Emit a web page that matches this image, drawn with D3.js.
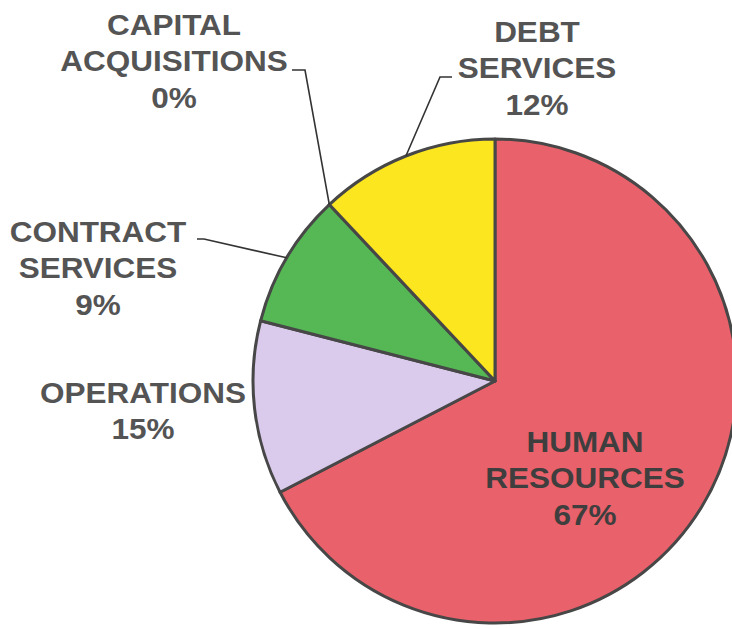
<!DOCTYPE html>
<html>
<head>
<meta charset="utf-8">
<script src="https://cdn.jsdelivr.net/npm/d3@7"></script>
<style>
  html, body { margin: 0; padding: 0; background: #fff; }
  svg { display: block; }
</style>
</head>
<body>
<svg id="chart" width="732" height="629"></svg>
<script>
// ---- data ----
const categories = ["HUMAN RESOURCES", "OPERATIONS", "CONTRACT SERVICES", "CAPITAL ACQUISITIONS", "DEBT SERVICES"];
const sliceValues = [67.4, 11.6, 9.0, 0, 12.0];          // slice sizes as drawn
const percentLabels = ["67%", "15%", "9%", "0%", "12%"];  // printed labels
const labelLines = [["HUMAN", "RESOURCES"], ["OPERATIONS"], ["CONTRACT", "SERVICES"], ["CAPITAL", "ACQUISITIONS"], ["DEBT", "SERVICES"]];
const colors = ["#E9616A", "#DACAEC", "#55B854", "#FCE620", "#FCE620"];

// ---- layout ----
const W = 732, H = 629;
const cx = 495, cy = 381, R = 242;
const lineH = 36.5;
const labelLayout = [
  { x: 585, y: 452, inside: true },
  { x: 143, y: 403 },
  { x: 98,  y: 242, lead: [[197, 239], [204, 239]], at: "mid" },
  { x: 174, y: 35,  lead: [[292, 70], [305, 70]],  at: "start" },
  { x: 537, y: 42,  lead: [[452, 77], [440, 77]],  at: "mid" }
];

const svg = d3.select("#chart");
svg.append("rect").attr("width", W).attr("height", H).attr("fill", "#fff");

const pie = d3.pie().sort(null).value(d => d).startAngle(0).endAngle(2 * Math.PI);
const arcs = pie(sliceValues);
const arcGen = d3.arc().innerRadius(0).outerRadius(R);

const g = svg.append("g").attr("transform", `translate(${cx},${cy})`);
g.selectAll("path.slice")
  .data(arcs)
  .join("path")
  .attr("class", "slice")
  .attr("d", arcGen)
  .attr("fill", (d, i) => colors[i])
  .attr("stroke", "#474747")
  .attr("stroke-width", 3)
  .attr("stroke-linejoin", "round");

// leader lines
arcs.forEach((a, i) => {
  const L = labelLayout[i];
  if (!L.lead) return;
  const ang = L.at === "start" ? a.startAngle : (a.startAngle + a.endAngle) / 2;
  const ex = cx + R * Math.sin(ang), ey = cy - R * Math.cos(ang);
  const pts = [...L.lead, [ex, ey]];
  svg.append("path")
    .attr("d", d3.line()(pts))
    .attr("fill", "none")
    .attr("stroke", "#333")
    .attr("stroke-width", 1.6);
});

// labels
const sx = 1.05;
labelLayout.forEach((L, i) => {
  const lines = [...labelLines[i], percentLabels[i]];
  const t = svg.append("text")
    .attr("transform", `translate(${L.x},0) scale(${sx},1)`)
    .attr("text-anchor", "middle")
    .attr("font-family", "Liberation Sans, Arial, sans-serif")
    .attr("font-weight", "bold")
    .attr("font-size", 30)
    .attr("fill", L.inside ? "#3e3e3e" : "#545454");
  lines.forEach((s, k) => {
    t.append("tspan").attr("x", 0).attr("y", L.y + k * lineH).text(s);
  });
});
</script>
</body>
</html>
